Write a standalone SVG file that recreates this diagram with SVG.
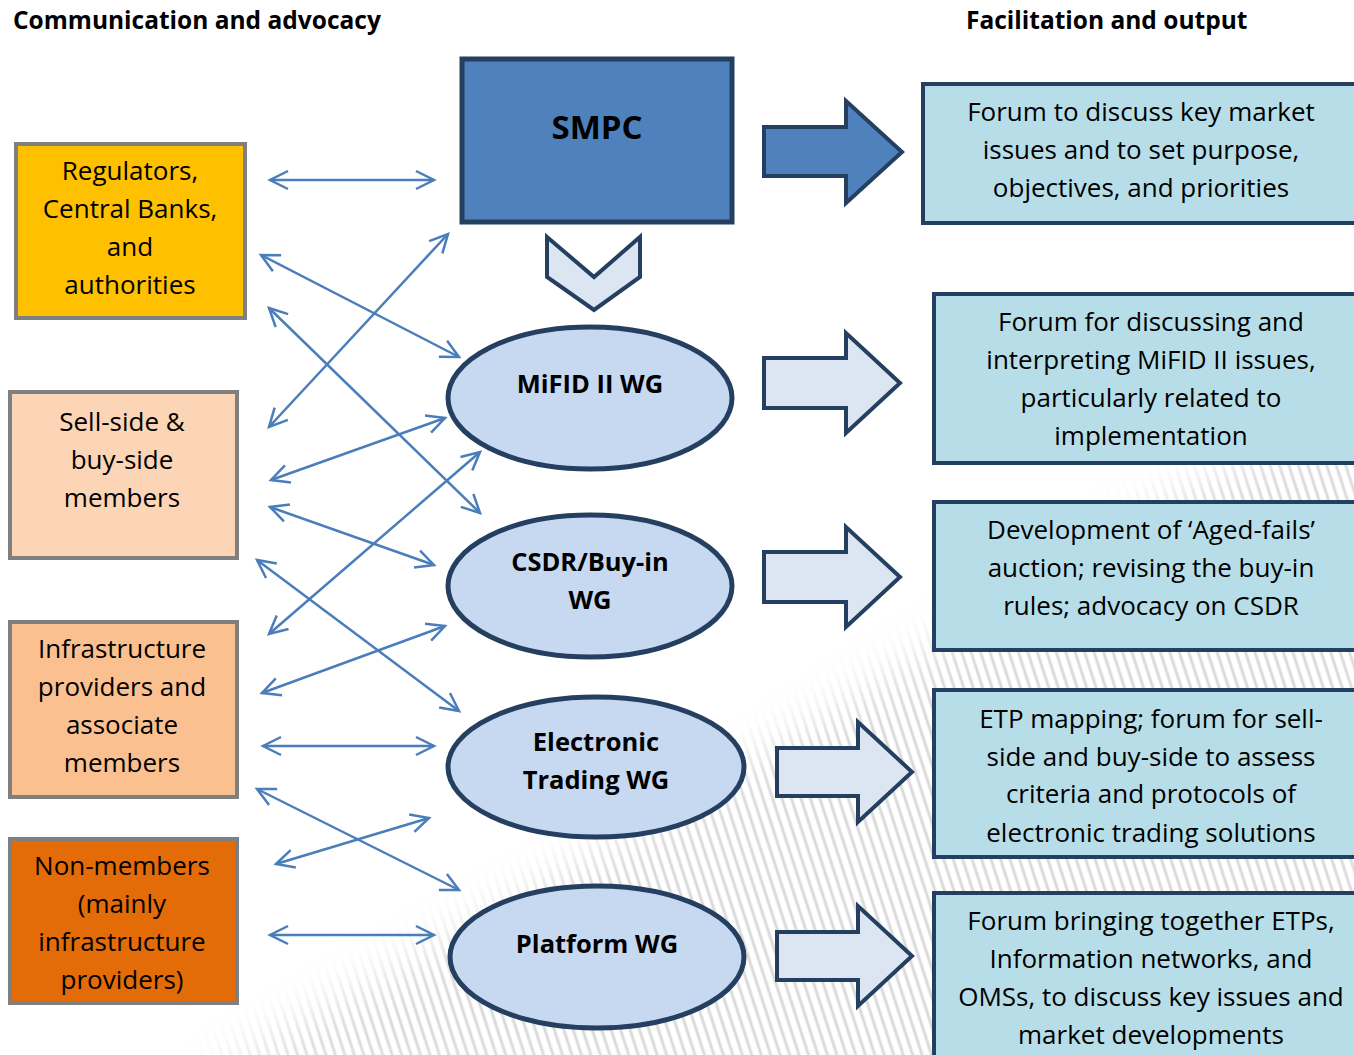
<svg xmlns="http://www.w3.org/2000/svg" width="1354" height="1055" viewBox="0 0 1354 1055">
<style>
.t{font-family:"Open Sans","Noto Sans","DejaVu Sans",sans-serif;font-size:26px;fill:#000;text-anchor:middle}
.b{font-family:"Open Sans","Noto Sans","DejaVu Sans",sans-serif;font-weight:bold;fill:#000}
.lb{stroke:#7F7F7F;stroke-width:4}
.rb{fill:#B7DEE8;stroke:#243F60;stroke-width:4}
.el{fill:#C6D9F1;stroke:#243F60;stroke-width:5}
.ar{fill:#DCE6F2;stroke:#243F60;stroke-width:4;stroke-linejoin:miter}
.cn{fill:none;stroke:#4A7EBB;stroke-width:2.5;marker-start:url(#ah);marker-end:url(#ah)}
</style>
<defs>
<marker id="ah" markerUnits="userSpaceOnUse" markerWidth="30" markerHeight="30" viewBox="-24 -15 30 30" refX="0" refY="0" orient="auto-start-reverse" overflow="visible">
<path d="M-18,-9 L0,0 L-18,9" fill="none" stroke="#4A7EBB" stroke-width="2.5"/>
</marker>
<pattern id="hatch" patternUnits="userSpaceOnUse" width="9" height="9" patternTransform="rotate(-18)">
<line x1="2" y1="-2" x2="2" y2="11" stroke="#DADADA" stroke-width="3"/>
</pattern>
<filter id="blur" x="-20%" y="-20%" width="140%" height="140%"><feGaussianBlur stdDeviation="22"/></filter>
<mask id="hm" maskUnits="userSpaceOnUse" x="0" y="0" width="1354" height="1055">
<path d="M200,1075 C430,950 650,820 860,690 S1160,480 1380,410 L1380,1100 Z" fill="#fff" filter="url(#blur)"/>
</mask>
</defs>
<rect width="1354" height="1055" fill="#fff"/>
<rect id="hatching" width="1354" height="1055" fill="url(#hatch)" mask="url(#hm)"/>

<text class="b" x="13" y="29" font-size="24.5">Communication and advocacy</text>
<text class="b" x="966" y="29" font-size="24.5">Facilitation and output</text>

<g id="connectors">
<line class="cn" x1="270" y1="180" x2="434" y2="180"/>
<line class="cn" x1="261" y1="255" x2="459" y2="357"/>
<line class="cn" x1="269" y1="427" x2="448" y2="234"/>
<line class="cn" x1="269" y1="308" x2="480" y2="513"/>
<line class="cn" x1="271" y1="480" x2="445" y2="418"/>
<line class="cn" x1="270" y1="507" x2="434" y2="565"/>
<line class="cn" x1="269" y1="634" x2="480" y2="452"/>
<line class="cn" x1="257" y1="560" x2="459" y2="711"/>
<line class="cn" x1="262" y1="693" x2="445" y2="626"/>
<line class="cn" x1="263" y1="746" x2="434" y2="746"/>
<line class="cn" x1="257" y1="789" x2="459" y2="890"/>
<line class="cn" x1="276" y1="864" x2="429" y2="818"/>
<line class="cn" x1="270" y1="935" x2="434" y2="935"/>
</g>

<g id="regulators">
<rect class="lb" x="16" y="144" width="229" height="174" fill="#FFC000"/>
<text class="t" x="130" y="180">Regulators,</text>
<text class="t" x="130" y="218">Central Banks,</text>
<text class="t" x="130" y="256">and</text>
<text class="t" x="130" y="294">authorities</text>
</g>
<g id="sellside">
<rect class="lb" x="10" y="392" width="227" height="166" fill="#FBD5B5"/>
<text class="t" x="122" y="431">Sell-side &amp;</text>
<text class="t" x="122" y="469">buy-side</text>
<text class="t" x="122" y="507">members</text>
</g>
<g id="infrastructure">
<rect class="lb" x="10" y="622" width="227" height="175" fill="#FAC090"/>
<text class="t" x="122" y="658">Infrastructure</text>
<text class="t" x="122" y="696">providers and</text>
<text class="t" x="122" y="734">associate</text>
<text class="t" x="122" y="772">members</text>
</g>
<g id="nonmembers">
<rect class="lb" x="10" y="839" width="227" height="164" fill="#E36C09"/>
<text class="t" x="122" y="875">Non-members</text>
<text class="t" x="122" y="913">(mainly</text>
<text class="t" x="122" y="951">infrastructure</text>
<text class="t" x="122" y="989">providers)</text>
</g>

<g id="smpc">
<rect x="462" y="59" width="270" height="163" fill="#4F81BD" stroke="#243F60" stroke-width="5"/>
<text class="b" x="597" y="139" font-size="33" text-anchor="middle">SMPC</text>
</g>
<g id="chevron">
<path class="ar" d="M547,237 L594,277 L640,237 L640,277 L594,310 L547,277 Z"/>
</g>

<g id="mifid">
<ellipse class="el" cx="590" cy="398" rx="142" ry="71"/>
<text class="b" x="590" y="393" font-size="25.5" text-anchor="middle">MiFID II WG</text>
</g>
<g id="csdr">
<ellipse class="el" cx="590" cy="586" rx="142" ry="71"/>
<text class="b" x="590" y="571" font-size="25.5" text-anchor="middle">CSDR/Buy-in</text>
<text class="b" x="590" y="609" font-size="25.5" text-anchor="middle">WG</text>
</g>
<g id="electronic">
<ellipse class="el" cx="596" cy="767" rx="148" ry="70"/>
<text class="b" x="596" y="751" font-size="25.5" text-anchor="middle">Electronic</text>
<text class="b" x="596" y="789" font-size="25.5" text-anchor="middle">Trading WG</text>
</g>
<g id="platform">
<ellipse class="el" cx="597" cy="957" rx="147" ry="71"/>
<text class="b" x="597" y="953" font-size="25.5" text-anchor="middle">Platform WG</text>
</g>

<g id="arrows">
<path d="M764,127 L846,127 L846,101 L902,152 L846,203 L846,176 L764,176 Z" fill="#4F81BD" stroke="#243F60" stroke-width="4"/>
<path class="ar" d="M764,358 L846,358 L846,333 L900,383 L846,433 L846,408 L764,408 Z"/>
<path class="ar" d="M764,552 L846,552 L846,527 L900,577 L846,627 L846,602 L764,602 Z"/>
<path class="ar" d="M777,748 L858,748 L858,722 L912,772 L858,822 L858,796 L777,796 Z"/>
<path class="ar" d="M777,932 L858,932 L858,906 L912,956 L858,1006 L858,980 L777,980 Z"/>
</g>

<g id="out1">
<rect class="rb" x="923" y="84" width="440" height="139"/>
<text class="t" x="1141" y="121">Forum to discuss key market</text>
<text class="t" x="1141" y="159">issues and to set purpose,</text>
<text class="t" x="1141" y="197">objectives, and priorities</text>
</g>
<g id="out2">
<rect class="rb" x="934" y="294" width="430" height="169"/>
<text class="t" x="1151" y="331">Forum for discussing and</text>
<text class="t" x="1151" y="369">interpreting MiFID II issues,</text>
<text class="t" x="1151" y="407">particularly related to</text>
<text class="t" x="1151" y="445">implementation</text>
</g>
<g id="out3">
<rect class="rb" x="934" y="502" width="430" height="148"/>
<text class="t" x="1151" y="539">Development of ‘Aged-fails’</text>
<text class="t" x="1151" y="577">auction; revising the buy-in</text>
<text class="t" x="1151" y="615">rules; advocacy on CSDR</text>
</g>
<g id="out4">
<rect class="rb" x="934" y="690" width="430" height="167"/>
<text class="t" x="1151" y="728">ETP mapping; forum for sell-</text>
<text class="t" x="1151" y="766">side and buy-side to assess</text>
<text class="t" x="1151" y="803">criteria and protocols of</text>
<text class="t" x="1151" y="842">electronic trading solutions</text>
</g>
<g id="out5">
<rect class="rb" x="934" y="893" width="430" height="180"/>
<text class="t" x="1151" y="930">Forum bringing together ETPs,</text>
<text class="t" x="1151" y="968">Information networks, and</text>
<text class="t" x="1151" y="1006">OMSs, to discuss key issues and</text>
<text class="t" x="1151" y="1044">market developments</text>
</g>
</svg>
